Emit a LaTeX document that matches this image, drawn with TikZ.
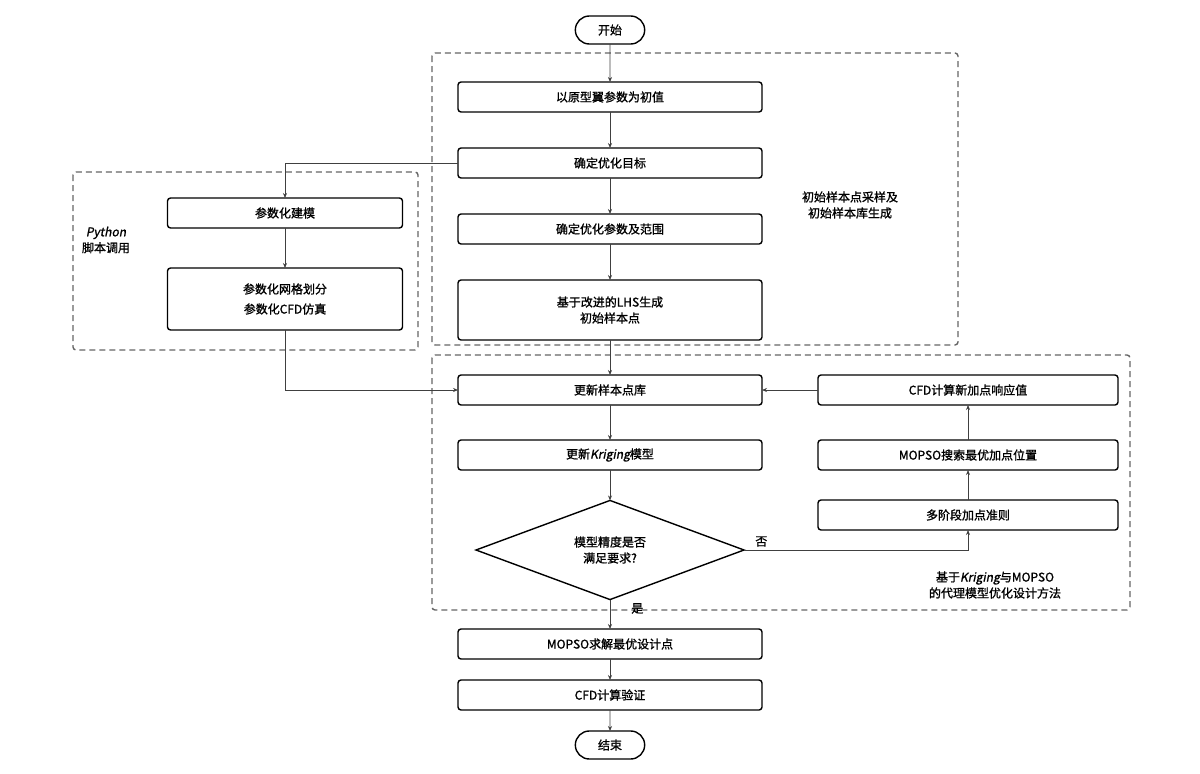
\documentclass[tikz,border=0pt]{standalone}
\usepackage{fontspec}
\setmainfont{Noto Sans CJK SC}[ItalicFont=Noto Sans CJK SC, ItalicFeatures={FakeSlant=0.2},
  BoldFont=Noto Sans CJK SC, BoldFeatures={FakeBold=1.2},
  BoldItalicFont=Noto Sans CJK SC, BoldItalicFeatures={FakeBold=1.2,FakeSlant=0.2}]
\usetikzlibrary{arrows.meta,shapes.geometric,shapes.misc}

\begin{document}
\begin{tikzpicture}[x=1pt,y=-1pt,
    every node/.style={font=\fontsize{12}{16}\selectfont\bfseries, outer sep=0pt},
    box/.style={draw, line width=1.4pt, rounded corners=3pt, minimum width=304pt, minimum height=30pt, align=center},
    sidebox/.style={box, minimum width=300pt},
    pybox/.style={box, minimum width=235pt},
    term/.style={draw, line width=1.4pt, rounded rectangle, minimum width=76pt, minimum height=28pt},
    decision/.style={draw, line width=1.4pt, diamond, minimum width=268pt, minimum height=90pt, inner sep=0pt, align=center},
    arr/.style={draw=black!75, line width=0.7pt, -{Stealth[length=5pt,width=4pt]}},
    group/.style={draw=black!60, line width=1.4pt, dash pattern=on 6pt off 4pt, rounded corners=3pt},
    note/.style={align=center}]
    \useasboundingbox (0,0) rectangle (1200,774);
    % dashed groups
    \draw[group] (432,53) rectangle (958,345);
    \draw[group] (73,172) rectangle (418,350);
    \draw[group] (432,355) rectangle (1130,610);
    % main column
    \node[term] (start) at (610,30) {开始};
    \node[box] (init) at (610,97) {以原型翼参数为初值};
    \node[box] (goal) at (610,163) {确定优化目标};
    \node[box] (range) at (610,229) {确定优化参数及范围};
    \node[box, minimum height=60pt] (lhs) at (610,310) {基于改进的LHS生成\\初始样本点};
    \node[box] (update) at (610,390) {更新样本点库};
    \node[box] (kriging) at (610,455) {更新\textit{Kriging}模型};
    \node[decision] (judge) at (610,550) {模型精度是否\\满足要求?};
    \node[box] (solve) at (610,644) {MOPSO求解最优设计点};
    \node[box] (verify) at (610,695) {CFD计算验证};
    \node[term] (stop) at (610,745) {结束};
    % python column
    \node[pybox] (model) at (285,213) {参数化建模};
    \node[pybox, minimum height=62pt] (mesh) at (285,299) {参数化网格划分\\[4pt]参数化CFD仿真};
    % right column
    \node[sidebox] (cfdnew) at (968,390) {CFD计算新加点响应值};
    \node[sidebox] (search) at (968,455) {MOPSO搜索最优加点位置};
    \node[sidebox] (crit) at (968,515) {多阶段加点准则};
    % group labels
    \node[note] (lblinit) at (850,205) {初始样本点采样及\\初始样本库生成};
    \node[note] (lblpy) at (106,240) {\textit{Python}\\脚本调用};
    \node[note] (lblopt) at (995,585) {基于\textit{Kriging}与MOPSO\\的代理模型优化设计方法};
    % connectors
    \draw[arr] (start) -- (init);
    \draw[arr] (init) -- (goal);
    \draw[arr] (goal) -- (range);
    \draw[arr] (range) -- (lhs);
    \draw[arr] (lhs) -- (update);
    \draw[arr] (update) -- (kriging);
    \draw[arr] (kriging) -- (judge);
    \draw[arr] (judge) -- node[pos=0.3, right, xshift=18pt] {是} (solve);
    \draw[arr] (solve) -- (verify);
    \draw[arr] (verify) -- (stop);
    \draw[arr] (goal.west) -| (model.north);
    \draw[arr] (model) -- (mesh);
    \draw[arr] (mesh.south) |- (update.west);
    \draw[arr] (judge.east) node[above right, xshift=8pt] {否} -| (crit.south);
    \draw[arr] (crit) -- (search);
    \draw[arr] (search) -- (cfdnew);
    \draw[arr] (cfdnew) -- (update);
\end{tikzpicture}
\end{document}
